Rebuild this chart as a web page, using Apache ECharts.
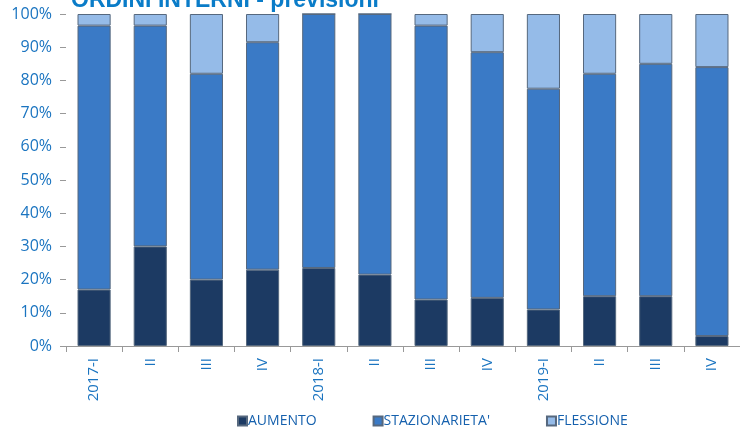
<!DOCTYPE html>
<html><head><meta charset="utf-8">
<script src="https://cdn.jsdelivr.net/npm/echarts@6/dist/echarts.min.js"></script>
<style>html,body{margin:0;padding:0;background:#fff}#c{width:740px;height:433px}</style>
</head><body><div id="c"></div>
<script>
var categories = ['2017-I','II','III','IV','2018-I','II','III','IV','2019-I','II','III','IV'];
var aumento = [17, 30, 20, 23, 23.5, 21.5, 14, 14.5, 11, 15, 15, 3];
var stazionarieta = [79.5, 66.5, 62, 68.5, 76.5, 78.5, 82.5, 74, 66.5, 67, 70, 81];
var flessione = [3.5, 3.5, 18, 8.5, 0, 0, 3.5, 11.5, 22.5, 18, 15, 16];
var yTicks = ['0%','10%','20%','30%','40%','50%','60%','70%','80%','90%','100%'];

var blue = '#1a74c0';
var font = 'Open Sans';
function mk(name, data, color) {
  return {
    name: name, type: 'bar', stack: 'tot', data: data, barWidth: '59%',
    itemStyle: {color: color, borderColor: '#56687e', borderWidth: 1}
  };
}
var chart = echarts.init(document.getElementById('c'));
chart.setOption({
  animation: false,
  title: {text: 'ORDINI INTERNI - previsioni', left: 66, top: -16,
    textStyle: {color: '#0a7cc8', fontSize: 23, fontWeight: 'bold', fontFamily: 'Liberation Sans'}},
  grid: {left: 66, right: 0, top: 14, bottom: 87},
  legend: {bottom: 0, left: 232, itemWidth: 9, itemHeight: 9, itemGap: 56,
    icon: 'rect',
    textStyle: {color: '#1560ad', fontSize: 14, fontFamily: font, padding: [0,0,0,-4]},
    data: ['AUMENTO', "STAZIONARIETA'", 'FLESSIONE']},
  xAxis: {type: 'category', data: categories,
    axisLine: {lineStyle: {color: '#999', width: 1}},
    axisTick: {show: true, length: 6, lineStyle: {color: '#999'}},
    axisLabel: {interval: 0, rotate: 90, color: blue, fontSize: 15, fontFamily: font, margin: 12}},
  yAxis: {type: 'value', min: 0, max: 100, interval: 10,
    axisLine: {show: false},
    axisTick: {show: true, length: 6, lineStyle: {color: '#999'}},
    splitLine: {show: false},
    axisLabel: {color: blue, fontSize: 16, fontFamily: font, margin: 14,
      formatter: function (v) { return yTicks[Math.round(v / 10)]; }}},
  series: [
    mk('AUMENTO', aumento, '#1c3a63'),
    mk("STAZIONARIETA'", stazionarieta, '#3a7ac6'),
    mk('FLESSIONE', flessione, '#95bbe8')
  ]
});
</script></body></html>
